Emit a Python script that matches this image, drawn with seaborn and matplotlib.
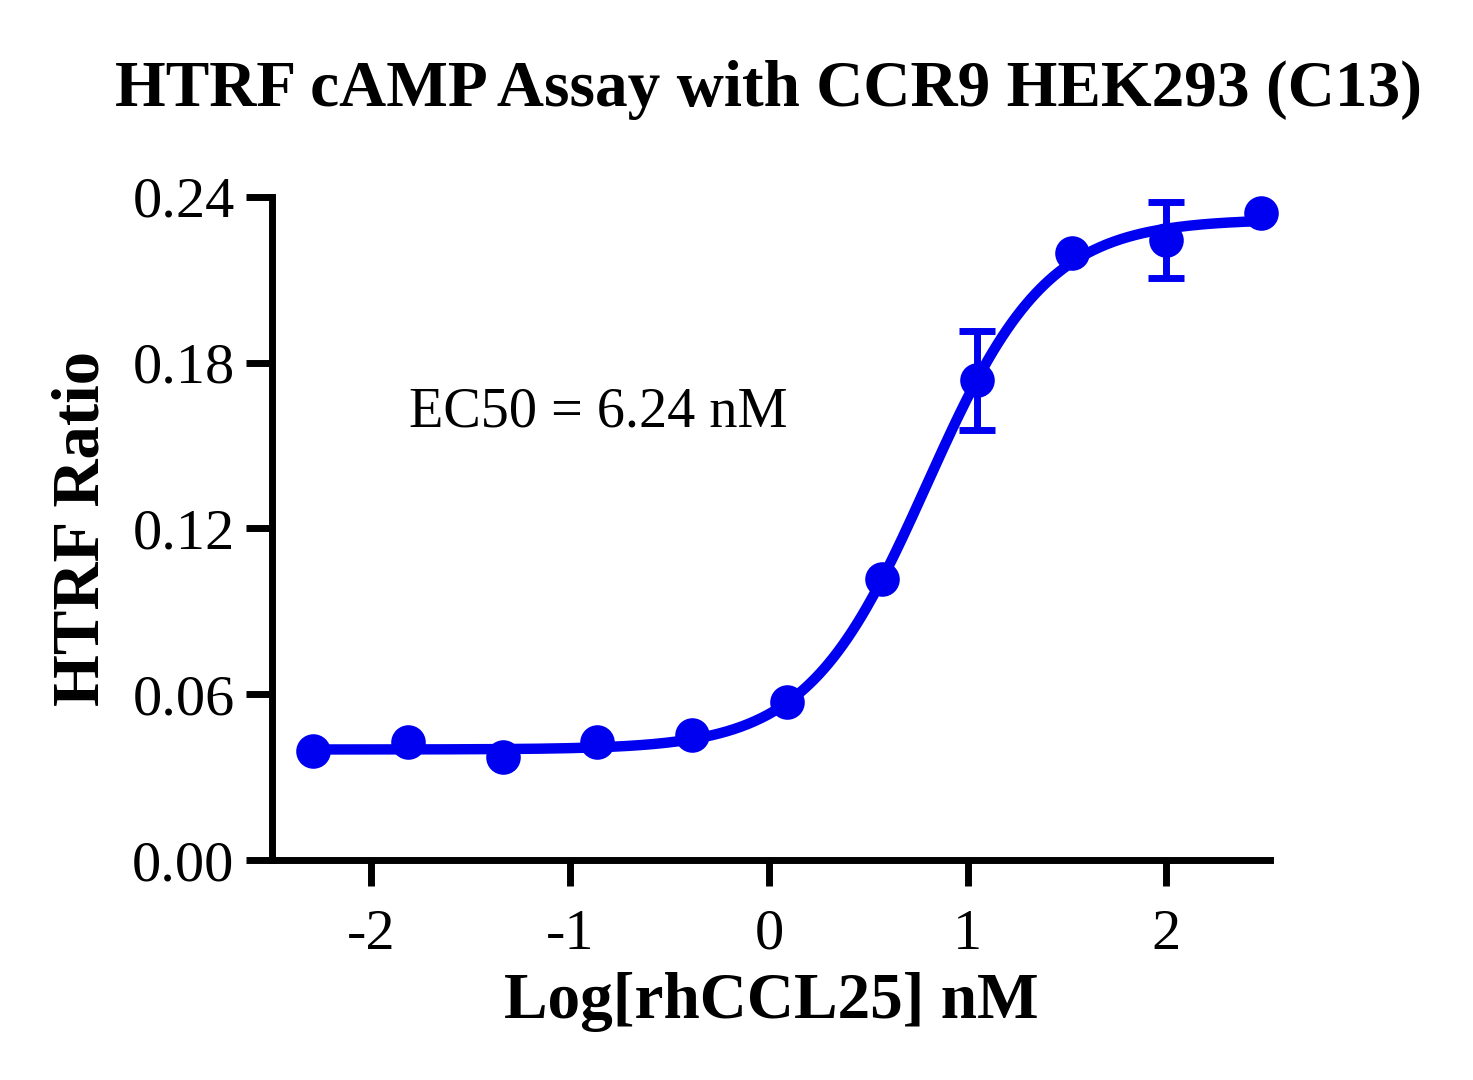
import numpy as np
import pandas as pd
import matplotlib
matplotlib.use("Agg")
import matplotlib.pyplot as plt
import seaborn as sns

# Данные: log концентрации (3-кратные разведения от 300 нМ)
log_conc = [-2.294, -1.817, -1.340, -0.863, -0.386, 0.091, 0.568, 1.046, 1.523, 2.000, 2.477]
htrf_ratio = [0.0395, 0.0427, 0.0373, 0.0427, 0.0452, 0.0572, 0.1017, 0.1736, 0.2197, 0.2244, 0.2342]
htrf_sd = [0, 0, 0, 0, 0, 0, 0, 0.0179, 0, 0.0137, 0]

# Параметры 4PL-аппроксимации
fit_bottom = 0.040
fit_top = 0.232
fit_log_ec50 = np.log10(6.24)
fit_hill = 1.44

x_ticks = [-2, -1, 0, 1, 2]
y_ticks = [0.00, 0.06, 0.12, 0.18, 0.24]

df = pd.DataFrame({'logx': log_conc, 'ratio': htrf_ratio, 'sd': htrf_sd})
err_df = df[df['sd'] > 0]

curve_x = np.linspace(min(log_conc), max(log_conc), 400)
curve_y = fit_bottom + (fit_top - fit_bottom) / (1 + 10 ** ((fit_log_ec50 - curve_x) * fit_hill))
curve_df = pd.DataFrame({'logx': curve_x, 'ratio': curve_y})

sns.set_style('ticks')
plt.rcParams['font.family'] = ['Liberation Serif', 'DejaVu Serif']
plt.rcParams['text.color'] = 'black'
plt.rcParams['axes.labelcolor'] = 'black'
plt.rcParams['xtick.color'] = 'black'
plt.rcParams['ytick.color'] = 'black'

fig = plt.figure(figsize=(14.73, 10.8), dpi=100)
ax = fig.add_axes([0.1847, 0.2037, 0.8620 - 0.1847, 0.8176 - 0.2037])

blue = '#0000F0'
sns.lineplot(data=curve_df, x='logx', y='ratio', color=blue, linewidth=7.5, ax=ax, zorder=3)
ax.errorbar(err_df['logx'], err_df['ratio'], yerr=err_df['sd'], fmt='none', ecolor=blue,
            elinewidth=5, capsize=13, capthick=5, zorder=2)
sns.scatterplot(data=df, x='logx', y='ratio', color=blue, s=620, edgecolor=blue,
                linewidth=0, ax=ax, zorder=4, clip_on=False)

ax.set_xlim(-2.5, 2.52)
ax.set_ylim(0, 0.24)
ax.set_xticks(x_ticks)
ax.set_xticklabels([str(t) for t in x_ticks])
ax.set_yticks(y_ticks)
ax.set_yticklabels([f'{t:.2f}' for t in y_ticks])

for side in ['top', 'right']:
    ax.spines[side].set_visible(False)
for side in ['left', 'bottom']:
    ax.spines[side].set_linewidth(5)
    ax.spines[side].set_color('black')
    ax.spines[side].set_capstyle('projecting')

ax.tick_params(axis='both', length=19, width=5, color='black', labelcolor='black', labelsize=42)
ax.tick_params(axis='x', pad=16)
ax.tick_params(axis='y', pad=8)

ax.set_xlabel('Log[rhCCL25] nM', fontsize=47, fontweight='bold', labelpad=8)
ax.set_ylabel('HTRF Ratio', fontsize=48, fontweight='bold', labelpad=14)

ax.text(-1.81, 0.162, 'EC50 = 6.24 nM', fontsize=40.5, va='center', ha='left')

fig.text(0.522, 0.917, 'HTRF cAMP Assay with CCR9 HEK293 (C13)', fontsize=47,
         fontweight='bold', ha='center', va='center')

fig.savefig('out.png', dpi=100)
plt.close(fig)
